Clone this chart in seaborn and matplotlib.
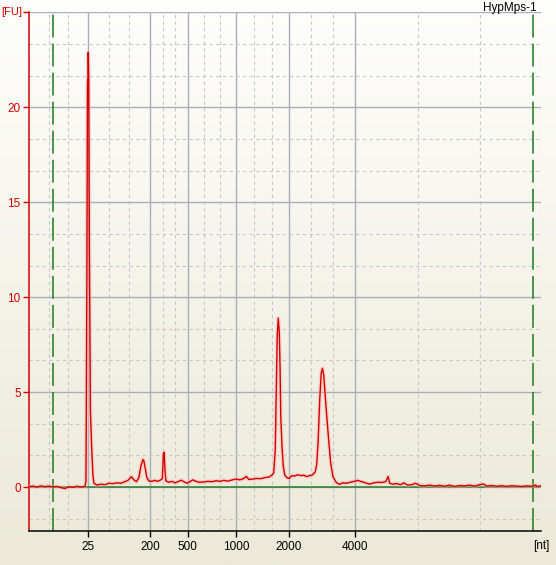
import numpy as np
import pandas as pd
import matplotlib
matplotlib.use("Agg")
import matplotlib.pyplot as plt
import seaborn as sns
from matplotlib.ticker import FixedLocator, MultipleLocator

plt.rcParams['font.family'] = ['Liberation Sans', 'DejaVu Sans']

# migration time [s] and fluorescence [FU]
time_s = [17.0, 17.4, 17.8, 18.2, 18.6, 19.0, 19.4, 19.8, 20.2, 20.6, 21.0, 21.4, 21.8, 22.2, 22.6,
          22.7, 22.73, 22.8, 22.85, 22.9, 22.93, 22.98, 23.05, 23.15, 23.27, 23.4, 23.5, 23.8,
          24.2, 24.6, 25.0, 25.4, 25.8, 26.2, 26.6, 26.9, 27.25, 27.5, 27.75, 28.0, 28.2, 28.4,
          28.5, 28.65, 28.8, 29.0, 29.3, 29.6, 29.9, 30.2, 30.35, 30.45, 30.53, 30.6, 30.7,
          31.0, 31.3, 31.6, 31.9, 32.25, 32.5, 32.8, 33.1, 33.4, 33.7, 34.1, 34.5, 34.9, 35.3,
          35.7, 36.1, 36.5, 36.9, 37.3, 37.7, 38.1, 38.5, 38.75, 39.0, 39.4, 39.8, 40.2, 40.6,
          41.0, 41.3, 41.5, 41.65, 41.75, 41.85, 41.95, 42.05, 42.13, 42.2, 42.33, 42.45, 42.6,
          42.8, 43.05, 43.3, 43.6, 43.9, 44.2, 44.5, 44.8, 45.1, 45.4, 45.65, 45.8, 45.95, 46.1,
          46.25, 46.37, 46.5, 46.75, 47.0, 47.2, 47.43, 47.77, 48.1, 48.4, 48.8, 49.2, 49.6,
          49.9, 50.2, 50.5, 50.8, 51.1, 51.5, 51.9, 52.3, 52.7, 52.95, 53.1, 53.4, 53.8, 54.2,
          54.5, 54.9, 55.3, 55.7, 56.1, 56.6, 57.1, 57.6, 58.1, 58.6, 59.1, 59.6, 60.1, 60.6,
          61.1, 61.6, 62.1, 62.5, 62.8, 63.3, 63.8, 64.3, 64.8, 65.3, 65.8, 66.3, 66.8, 67.3,
          67.7, 67.9, 68.2]
fu = [0.02, 0.05, 0.0, 0.06, 0.02, 0.05, 0.01, 0.03, -0.03, -0.08, 0.02, -0.02, 0.04, 0.0, 0.03,
      0.3, 3.0, 12.0, 21.3, 21.6, 22.9, 21.5, 12.0, 4.0, 2.1, 0.6, 0.2, 0.1,
      0.15, 0.12, 0.2, 0.18, 0.22, 0.2, 0.28, 0.35, 0.54, 0.38, 0.28, 0.5, 1.1, 1.45,
      1.38, 0.95, 0.5, 0.32, 0.3, 0.35, 0.3, 0.38, 0.45, 1.75, 1.83, 1.0, 0.32,
      0.25, 0.3, 0.22, 0.28, 0.36, 0.28, 0.2, 0.28, 0.38, 0.3, 0.25, 0.27, 0.3, 0.28,
      0.33, 0.3, 0.35, 0.31, 0.37, 0.42, 0.38, 0.45, 0.56, 0.4, 0.42, 0.45, 0.44, 0.5,
      0.52, 0.62, 0.75, 2.0, 5.0, 8.0, 8.9, 8.2, 6.3, 3.7, 2.1, 1.1, 0.63,
      0.5, 0.45, 0.6, 0.58, 0.65, 0.6, 0.62, 0.55, 0.6, 0.65, 0.8, 1.2, 2.5, 4.6,
      6.0, 6.25, 5.9, 4.1, 2.45, 1.25, 0.54, 0.23, 0.14, 0.22, 0.2, 0.26, 0.3,
      0.35, 0.3, 0.25, 0.2, 0.15, 0.22, 0.25, 0.24, 0.28, 0.55, 0.2, 0.15, 0.18, 0.12,
      0.22, 0.1, 0.12, 0.2, 0.08, 0.06, 0.1, 0.05, 0.09, 0.04, 0.1, 0.03, 0.08, 0.06,
      0.1, 0.05, 0.12, 0.16, 0.05, 0.08, 0.04, 0.07, 0.03, 0.07, 0.05, 0.03, 0.06, 0.04,
      0.1, 0.02, 0.06]

# ladder sizes and where they sit on the time axis
ladder_nt = ["25", "200", "500", "1000", "2000", "4000"]
ladder_time = [22.9, 29.1, 32.9, 37.77, 43.03, 49.67]
minor_time = [19.0, 20.9, 24.97, 27.03, 30.37, 31.63, 34.52, 36.14, 39.52, 41.28,
              45.24, 47.45, 55.9, 62.1, 68.2]
marker_time = [19.4, 67.4]
fu_ticks = [0, 5, 10, 15, 20, 25]
fu_labels = ["0", "5", "10", "15", "20", ""]

df = pd.DataFrame({"time": time_s, "fu": fu})

red = "#d40000"
fig = plt.figure(figsize=(5.56, 5.65), dpi=100)

# background gradient white -> beige
bg = fig.add_axes([0, 0, 1, 1], zorder=-10)
grad = np.linspace(0, 1, 256).reshape(-1, 1)
top = np.array([254, 254, 252]) / 255
bot = np.array([236, 233, 216]) / 255
img = top + (bot - top) * grad[:, :, None]
bg.imshow(img, aspect="auto", extent=[0, 1, 0, 1])
bg.axis("off")
fig.patch.set_facecolor(bot)

ax = fig.add_axes([29 / 556, 1 - 531 / 565, 512 / 556, 519 / 565])
ax.set_facecolor("none")

ax.set_xlim(17.0, 68.25)
ax.set_ylim(-2.316, 25.02)

ax.xaxis.set_major_locator(FixedLocator(ladder_time))
ax.set_xticklabels(ladder_nt)
ax.xaxis.set_minor_locator(FixedLocator(minor_time))
ax.set_yticks(fu_ticks)
ax.set_yticklabels(fu_labels)
ax.yaxis.set_minor_locator(MultipleLocator(5 / 3))

ax.grid(which="major", color="#a8afbb", lw=1.0, ls="-", zorder=0)
ax.grid(which="minor", color="#c6c6c6", lw=0.8, ls=(0, (3, 3)), zorder=0)
ax.set_axisbelow(True)

ax.tick_params(axis="x", which="major", length=4.5, width=1, color="black",
               labelsize=8.5, labelcolor="black", pad=3)
ax.tick_params(axis="y", which="major", length=4.5, width=1, color=red,
               labelsize=8.5, labelcolor=red, pad=1.5)
ax.tick_params(which="minor", length=0)

for s in ["top", "right"]:
    ax.spines[s].set_visible(False)
ax.spines["left"].set_color(red)
ax.spines["left"].set_linewidth(1.1)
ax.spines["bottom"].set_color("black")
ax.spines["bottom"].set_linewidth(1.1)

# baseline and integration markers
ax.axhline(0, color="#2a7d2a", lw=1.1, zorder=2)
for t in marker_time:
    ax.axvline(t, color="#1b7a1b", lw=1.1, ls=(0, (15, 4)), zorder=2)

# trace with soft halo
sns.lineplot(data=df, x="time", y="fu", ax=ax, color="#ffb0b0", lw=3.0, alpha=0.45,
             zorder=3, sort=False, estimator=None)
sns.lineplot(data=df, x="time", y="fu", ax=ax, color=red, lw=1.0,
             zorder=4, sort=False, estimator=None)
ax.set_xlabel("")
ax.set_ylabel("")

fig.text(1 / 556, 1 - 12 / 565, "[FU]", ha="left", va="center", fontsize=8, color=red)
fig.text(537 / 556, 1 - 2 / 565, "HypMps-1", ha="right", va="top", fontsize=8.5, color="black")
fig.text(541 / 556, 1 - 540 / 565, "[nt]", ha="center", va="top", fontsize=8.5, color="black")

fig.savefig("out.png", dpi=100)
